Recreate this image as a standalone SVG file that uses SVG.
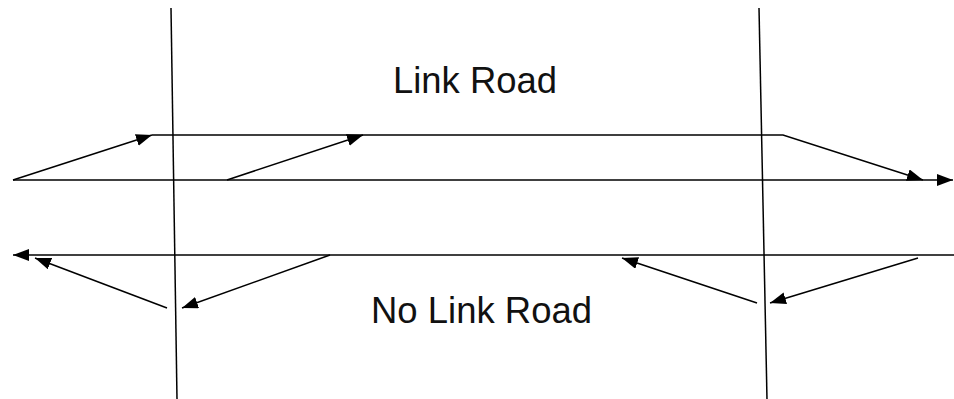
<svg xmlns="http://www.w3.org/2000/svg" width="954" height="399" viewBox="0 0 954 399">
<style>
.ln{stroke:#000;stroke-width:1.5;fill:none}
.arr{marker-end:url(#ah)}
.lbl{font-family:"Liberation Sans",Arial,sans-serif;font-size:37px;fill:#111}
</style>
<defs>
<marker id="ah" markerUnits="userSpaceOnUse" markerWidth="17" markerHeight="13" refX="16" refY="6" orient="auto">
<path d="M0,0 L16,6 L0,12 Z" fill="#000"/>
</marker>
</defs>
<rect width="954" height="399" fill="#fff"/>
<g id="labels">
<text id="link-road" class="lbl" x="393" y="93" textLength="164" lengthAdjust="spacingAndGlyphs">Link Road</text>
<text id="no-link-road" class="lbl" x="371" y="323" textLength="221" lengthAdjust="spacingAndGlyphs">No Link Road</text>
</g>
<g id="cross-lines">
<line class="ln" x1="171" y1="8" x2="177" y2="399"/>
<line class="ln" x1="759" y1="8" x2="767" y2="399"/>
</g>
<g id="connectors">
<line class="ln arr" x1="13" y1="180" x2="953" y2="180"/>
<line class="ln arr" x1="13" y1="180" x2="152" y2="135"/>
<polyline class="ln arr" points="152,135 783,135 923,180"/>
<line class="ln arr" x1="227" y1="180" x2="363" y2="135"/>
<line class="ln arr" x1="954" y1="255" x2="13" y2="255"/>
<line class="ln arr" x1="167" y1="308" x2="35" y2="258"/>
<line class="ln arr" x1="330" y1="255" x2="182" y2="308"/>
<line class="ln arr" x1="757" y1="303" x2="622" y2="258"/>
<line class="ln arr" x1="918" y1="258" x2="770" y2="303"/>
</g>
</svg>
